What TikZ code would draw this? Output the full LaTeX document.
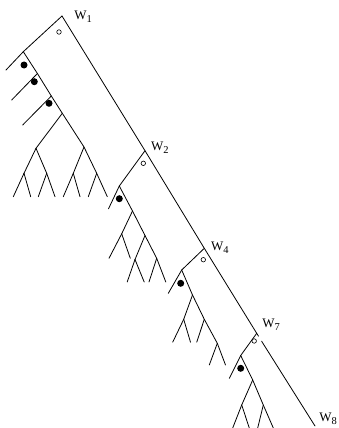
\documentclass[tikz,border=0pt]{standalone}
\usepackage{fontspec}
\setmainfont{Liberation Serif}
\newcommand{\wlab}[1]{W\raisebox{-3pt}{\fontsize{10.5}{12}\selectfont #1}}
\begin{document}
\begin{tikzpicture}[x=1pt, y=-1pt, line width=0.8pt, line cap=round,
	opendot/.style={circle, draw, line width=0.6pt, inner sep=0pt, minimum size=4.5pt},
	fulldot/.style={circle, fill, inner sep=0pt, minimum size=7pt},
	wlabel/.style={anchor=base west, inner sep=0pt, font=\fontsize{13}{15}\selectfont}]
	\useasboundingbox (0,0) rectangle (338,428);
	\foreach \n/\x/\y in {a1/62/16, j2/145/150.7, j4/204.3/248.3, j7/256.7/333.3, s7/258.5/336.2, t7/261.6/341.2, z8/315/426,
		l1/23.3/51.7, e1/6/70, p1/37.4/73.5, f1/11.7/100, p2/51.3/96, g1/22.7/125, p3/62.3/113.3,
		q1/36/148.3, r1/84/147, qa1/24/173.3, qb1/46.7/173.3, ra1/73.3/173.3, rb1/96.7/173.3,
		l2/119.3/186, e2/108.5/208.8, n2/132.5/211, m2/121.7/233.8, k2/145/235.5, ka2/135/259.5, kb2/156.7/258.3,
		l4/181.7/270, e4/168.3/293.3, n4/192.5/295, a4/183.7/319.3, b4/204.3/319.3, c4/217.3/343.3,
		l7/240.7/355.5, e7/229.3/378.3, n7/252.7/380, d7/241.7/405, f7/263.3/405}
		\coordinate (\n) at (\x,\y);
	\foreach \i/\x in {1/13.3, 2/30.7, 3/38.3, 4/55, 5/63.3, 6/80, 7/88.3, 8/107.3}
		\coordinate (u\i) at (\x,196.7);
	\foreach \i/\x in {1/109, 2/130.3} \coordinate (v\i) at (\x,258.3);
	\foreach \i/\x in {1/127.2, 2/144.2, 3/149, 4/165.8} \coordinate (v\i b) at (\x,282);
	\foreach \i/\x in {1/172.7, 2/190.5, 3/196.7} \coordinate (w\i) at (\x,342.2);
	\foreach \i/\x in {1/209.3, 2/225.5} \coordinate (w\i b) at (\x,365);
	\foreach \i/\x in {1/232.7, 2/249.3, 3/257.7, 4/273.3} \coordinate (x\i) at (\x,428);

	\draw (a1) -- (j2) -- (j4) -- (j7) -- (s7);
	\draw (t7) -- (z8);

	\draw (a1) -- (l1) -- (e1);
	\draw (l1) -- (p1) -- (p2) -- (p3) -- (r1) -- (rb1) -- (u8);
	\foreach \a/\b in {p1/f1, p2/g1, p3/q1, q1/qa1, qa1/u1, qa1/u2, q1/qb1, qb1/u3, qb1/u4, r1/ra1, ra1/u5, ra1/u6, rb1/u7}
		\draw (\a) -- (\b);

	\draw (j2) -- (l2) -- (e2);
	\draw (l2) -- (n2) -- (k2) -- (kb2) -- (v4b);
	\foreach \a/\b in {n2/m2, m2/v1, m2/v2, k2/ka2, ka2/v1b, ka2/v2b, kb2/v3b}
		\draw (\a) -- (\b);

	\draw (j4) -- (l4) -- (e4);
	\draw (l4) -- (n4) -- (b4) -- (c4) -- (w2b);
	\foreach \a/\b in {n4/a4, a4/w1, a4/w2, b4/w3, c4/w1b}
		\draw (\a) -- (\b);

	\draw (j7) -- (l7) -- (e7);
	\draw (l7) -- (n7) -- (f7) -- (x4);
	\foreach \a/\b in {n7/d7, d7/x1, d7/x2, f7/x3}
		\draw (\a) -- (\b);

	\foreach \x/\y in {59/32, 143.3/163.3, 203.3/259.7, 254.2/341}
		\node[opendot] at (\x,\y) {};
	\foreach \x/\y in {24/65, 34.3/81.7, 49/103.3, 119.3/198.7, 180.7/283.3, 240.7/368.3}
		\node[fulldot] at (\x,\y) {};

	\node[wlabel] (lw1) at (74,20) {\wlab{1}};
	\node[wlabel] (lw2) at (150.7,150) {\wlab{2}};
	\node[wlabel] (lw4) at (210.7,250) {\wlab{4}};
	\node[wlabel] (lw7) at (262,327) {\wlab{7}};
	\node[wlabel] (lw8) at (319,421) {\wlab{8}};
\end{tikzpicture}
\end{document}
